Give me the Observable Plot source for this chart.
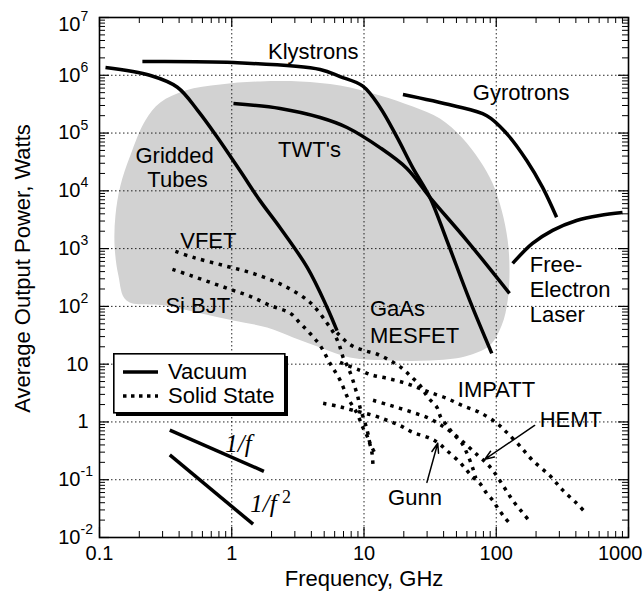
<!DOCTYPE html>
<html><head><meta charset="utf-8">
<script src="https://cdn.jsdelivr.net/npm/d3@7"></script>
<script src="https://cdn.jsdelivr.net/npm/@observablehq/plot@0.6"></script>
<style>
html,body{margin:0;padding:0;background:#fff;overflow:hidden;}
#wrap{position:relative;width:643px;height:595px;font-family:"Liberation Sans",Arial,Helvetica,sans-serif;}
#legend{position:absolute;left:113px;top:353px;}
</style></head><body><div id="wrap"></div>
<script>
// ---- data: [frequency GHz, average power W] ----
const griddedTubes = [[0.111,1.36e6],[0.243,9.9e5],[0.388,6.2e5],[0.55,2.5e5],[0.78,8.4e4],[1.16,2.2e4],[1.64,6.7e3],[2.32,2.3e3],[3.72,473],[5.26,96],[6.25,38]];
const klystrons = [[0.211,1.73e6],[1.03,1.66e6],[4.66,1.26e6],[6.59,9.5e5],[9.8,6.5e5],[13.2,2.8e5],[17.8,8.4e4],[23.4,2.5e4],[31.5,7.7e3],[42.3,1.39e3],[63,127],[92.5,15.4]];
const twts = [[1.03,3.25e5],[2.32,2.67e5],[4.66,1.86e5],[7.44,1.25e5],[13.2,5.6e4],[21.1,2.44e4],[31.5,7.7e3],[59.8,1.39e3],[126,168]];
const gyrotrons = [[19.7,4.66e5],[47,3.0e5],[84.8,2.0e5],[120,9.8e4],[170,3.36e4],[224,1.15e4],[286,3.5e3]];
const freeElectronLaser = [[133,555],[188,1230],[267,2070],[405,3070],[604,3750],[901,4200]];

const vfet = [[0.375,896],[0.512,705],[0.863,512],[1.45,372],[2.45,231],[3.91,117],[5.26,51],[6.04,31.5],[6.59,19.5],[6.95,13.1],[7.57,8.8],[8.11,5.9],[8.55,3.97],[9.0,2.67],[9.33,1.79],[10.2,0.95],[10.7,0.635],[11.1,0.43],[12.3,0.27]];
const siBjt = [[0.356,437],[0.486,344],[0.689,260],[0.975,197],[1.38,149],[1.95,104],[2.77,76],[3.29,51],[3.91,34],[4.66,21],[5.54,10.3],[6.59,5.3],[7.57,2.56],[8.85,1.41],[9.83,0.79],[10.7,0.53],[11.5,0.286],[11.7,0.164]];
const gaasMesfet = [[6.25,35],[7.8,22],[9.8,17.5],[12.5,15],[15.7,11.6],[19.4,8.5],[22.2,6.4],[26.5,4.3],[30.4,2.67],[35.6,1.79],[38.1,1.2],[42.3,0.87],[47,0.635],[55,0.427],[61,0.264],[66.5,0.157],[70,0.106]];
const impatt = [[6.59,10.7],[9.33,7.8],[11.7,6.4],[14.9,5.7],[19.7,4.84],[25.1,3.97],[31.5,3.25],[42.3,2.56],[55.8,1.91],[75,1.46],[101,0.95],[120,0.66],[150,0.39],[188,0.217],[253,0.119],[318,0.066],[405,0.039],[466,0.028]];
const hemt = [[11.7,2.37],[14.9,2.01],[18.7,1.72],[23.4,1.46],[29.9,1.2],[37.5,0.91],[47,0.635],[58.9,0.41],[72.5,0.264],[83.3,0.2],[94,0.146],[106,0.098],[120,0.063],[135,0.042],[156,0.028],[179,0.019]];
const gunn = [[4.91,2.1],[6.37,1.86],[8.26,1.59],[11.7,1.3],[14.9,1.07],[18.7,0.87],[23.4,0.66],[30.4,0.54],[36.1,0.44],[42.3,0.32],[53,0.2],[59.8,0.146],[66.5,0.11],[75,0.087],[84.7,0.058],[94,0.044],[103,0.032],[116,0.022],[131,0.016]];

const slopeOneOverF = [[0.34,0.72],[1.75,0.14]];
const slopeOneOverF2 = [[0.34,0.27],[1.45,0.017]];

// shaded region outline
const shadedRegion = [[0.16,127],[0.139,344],[0.130,1135],[0.132,3750],[0.144,12400],[0.171,40900],[0.222,165000],[0.288,338000],[0.446,546000],[0.818,693000],[1.64,782000],[3.29,782000],[6.59,667000],[13.2,448000],[23.4,288000],[37.5,179000],[55,84000],[75,33600],[94,13400],[110,4580],[122,1390],[126,420],[122,127],[110,47],[89,21],[58,13.6],[31.5,11.6],[15.7,11.6],[7.84,13.1],[4.66,19.5],[2.91,29],[1.85,43],[1.03,57],[0.578,76],[0.315,104]];

// labels
const labelText = ["Klystrons","Gyrotrons","TWT's","Gridded","Tubes","VFET","Si BJT","GaAs","MESFET","Free-","Electron","Laser","IMPATT","HEMT","Gunn"];
const labelF = [1.88,66.5,2.24,0.187,0.230,0.408,0.315,11.1,11.1,179,179,179,51.2,213,15.2];
const labelP = [1.95e6,3.66e5,3.78e4,2.98e4,1.15e4,1007,75.7,67,22.9,387,143,52.9,2.67,0.807,0.036];

const slopeLabelText = ["1/f","1/f"];
const slopeLabelF = [0.893,1.38];
const slopeLabelP = [0.298,0.0273];
const slopeSupText = ["2"];
const slopeSupF = [2.40];
const slopeSupP = [0.039];

const arrowF1 = [195,29.9], arrowP1 = [0.87,0.09];
const arrowF2 = [81.8,36.1], arrowP2 = [0.225,0.427];

const xTicks = [0.1,1,10,100,1000];
const xTickLabels = ["0.1","1","10","100","1000"];
const yTicks = [1e7,1e6,1e5,1e4,1e3,1e2,10,1,0.1,0.01];
const yTickLabels = ["10^7","10^6","10^5","10^4","10^3","10^2","10","1","10^-1","10^-2"];

const xTitle = "Frequency, GHz";
const yTitle = "Average Output Power, Watts";
const legendItems = ["Vacuum","Solid State"];

// ---- build ----
const rows = a => a.map(([f,p]) => ({f,p}));
const W = 643, H = 595, mL = 99, mR = 15, mT = 17, mB = 58;
const pW = W - mL - mR, pH = H - mT - mB;

const xMinor = [], yMinor = [];
for (const t of xTicks.slice(0,-1)) for (let m = 2; m <= 9; m++) xMinor.push(t*m);
for (const t of yTicks.slice(1)) for (let m = 2; m <= 9; m++) yMinor.push(t*m);

const yLab = yTicks.map((v,i) => {
  const [b,e] = yTickLabels[i].split("^");
  return {v, b, e: e || ""};
});
const yTop = yLab.slice(0,1);                       // top label sits just below the frame edge
const yExp = yLab.slice(1).filter(d => d.e), yPlain = yLab.filter(d => !d.e);
const xLab = xTicks.map((v,i) => ({v, t: xTickLabels[i]}));
const labels = labelText.map((t,i) => ({t, f: labelF[i], p: labelP[i]}));
const slopeLabels = slopeLabelText.map((t,i) => ({t, f: slopeLabelF[i], p: slopeLabelP[i]}));
const slopeSup = slopeSupText.map((t,i) => ({t, f: slopeSupF[i], p: slopeSupP[i]}));
const arrows = arrowF1.map((d,i) => ({x1: arrowF1[i], y1: arrowP1[i], x2: arrowF2[i], y2: arrowP2[i]}));

const solid = {x: "f", y: "p", stroke: "black", strokeWidth: 3.5, curve: "catmull-rom", strokeLinecap: "butt"};
const dotted = {x: "f", y: "p", stroke: "black", strokeWidth: 3.5, curve: "catmull-rom", strokeDasharray: "3.5,5.5", strokeLinecap: "butt"};
const font = "Liberation Sans, Arial, Helvetica, sans-serif";

const chart = Plot.plot({
  width: W, height: H,
  marginLeft: mL, marginRight: mR, marginTop: mT, marginBottom: mB,
  x: {type: "log", domain: [0.1, 1000], axis: null},
  y: {type: "log", domain: [0.01, 1e7], axis: null},
  style: {fontFamily: font, fontSize: "20px", color: "black", background: "white"},
  marks: [
    Plot.line(rows(shadedRegion), {x: "f", y: "p", curve: "catmull-rom-closed", fill: "#d2d2d2", stroke: "none"}),
    // grid
    Plot.ruleX(xTicks.slice(1,-1), {stroke: "black", strokeWidth: 1, strokeDasharray: "1.5,2.5", strokeOpacity: 0.85}),
    Plot.ruleY(yTicks.slice(1,-1), {stroke: "black", strokeWidth: 1, strokeDasharray: "1.5,2.5", strokeOpacity: 0.85}),
    // inward ticks, all four sides
    Plot.ruleX(xMinor, {insetTop: pH - 6, stroke: "black", strokeWidth: 1}),
    Plot.ruleX(xMinor, {insetBottom: pH - 6, stroke: "black", strokeWidth: 1}),
    Plot.ruleX(xTicks, {insetTop: pH - 10, stroke: "black", strokeWidth: 1.2}),
    Plot.ruleX(xTicks, {insetBottom: pH - 10, stroke: "black", strokeWidth: 1.2}),
    Plot.ruleY(yMinor, {insetRight: pW - 6, stroke: "black", strokeWidth: 1}),
    Plot.ruleY(yMinor, {insetLeft: pW - 6, stroke: "black", strokeWidth: 1}),
    Plot.ruleY(yTicks, {insetRight: pW - 10, stroke: "black", strokeWidth: 1.2}),
    Plot.ruleY(yTicks, {insetLeft: pW - 10, stroke: "black", strokeWidth: 1.2}),
    Plot.frame({stroke: "black", strokeWidth: 1.6}),
    // vacuum devices
    Plot.line(rows(griddedTubes), solid),
    Plot.line(rows(klystrons), solid),
    Plot.line(rows(twts), solid),
    Plot.line(rows(gyrotrons), solid),
    Plot.line(rows(freeElectronLaser), solid),
    Plot.line(rows(slopeOneOverF), {...solid, curve: "linear"}),
    Plot.line(rows(slopeOneOverF2), {...solid, curve: "linear"}),
    // solid state devices
    Plot.line(rows(vfet), dotted),
    Plot.line(rows(siBjt), dotted),
    Plot.line(rows(gaasMesfet), dotted),
    Plot.line(rows(impatt), dotted),
    Plot.line(rows(hemt), dotted),
    Plot.line(rows(gunn), dotted),
    Plot.arrow(arrows, {x1: "x1", y1: "y1", x2: "x2", y2: "y2", stroke: "black", strokeWidth: 1.5, headLength: 10, headAngle: 40}),
    // annotations
    Plot.text(labels, {x: "f", y: "p", text: "t", textAnchor: "start", lineAnchor: "bottom", fontSize: 22, fill: "black"}),
    Plot.text(slopeLabels, {x: "f", y: "p", text: "t", textAnchor: "start", lineAnchor: "bottom", fontSize: 25, fontFamily: "Liberation Serif, Times New Roman, serif", fontStyle: "italic", fill: "black"}),
    Plot.text(slopeSup, {x: "f", y: "p", text: "t", textAnchor: "start", lineAnchor: "bottom", fontSize: 18, fontFamily: "Liberation Serif, Times New Roman, serif", fill: "black"}),
    // y tick labels
    Plot.text(yTop, {y: "v", text: "b", frameAnchor: "left", textAnchor: "end", dx: -19, dy: 7, fontSize: 20, fill: "black"}),
    Plot.text(yTop, {y: "v", text: "e", frameAnchor: "left", textAnchor: "start", dx: -19, dy: -1, fontSize: 14, fill: "black"}),
    Plot.text(yExp, {y: "v", text: "b", frameAnchor: "left", textAnchor: "end", dx: -19, fontSize: 20, fill: "black"}),
    Plot.text(yExp, {y: "v", text: "e", frameAnchor: "left", textAnchor: "start", dx: -19, dy: -8, fontSize: 14, fill: "black"}),
    Plot.text(yPlain, {y: "v", text: "b", frameAnchor: "left", textAnchor: "end", dx: -11, fontSize: 20, fill: "black"}),
    // x tick labels
    Plot.text(xLab.slice(0,-1), {x: "v", text: "t", frameAnchor: "bottom", lineAnchor: "top", textAnchor: "middle", dy: 8, fontSize: 20, fill: "black"}),
    Plot.text(xLab.slice(-1), {x: "v", text: "t", frameAnchor: "bottom", lineAnchor: "top", textAnchor: "end", dx: 14, dy: 8, fontSize: 20, fill: "black"}),
    // axis titles
    Plot.text([xTitle], {text: d => d, frameAnchor: "bottom", lineAnchor: "bottom", textAnchor: "middle", dy: 48, fontSize: 22, fill: "black"}),
    Plot.text([yTitle], {text: d => d, frameAnchor: "left", textAnchor: "middle", rotate: -90, dx: -77, dy: -9, fontSize: 22, fill: "black"})
  ]
});
const wrap = document.getElementById("wrap");
wrap.appendChild(chart);

// legend (inside the plot area, bordered box with drop shadow)
const lg = d3.create("svg").attr("id", "legend").attr("width", 178).attr("height", 66)
  .style("font-family", font).style("font-size", "22px");
lg.append("rect").attr("x", 3).attr("y", 3).attr("width", 172).attr("height", 60).attr("fill", "black");
lg.append("rect").attr("x", 0.8).attr("y", 0.8).attr("width", 171).attr("height", 59).attr("fill", "white").attr("stroke", "black").attr("stroke-width", 1.6);
legendItems.forEach((t,i) => {
  const y = 19 + i*24;
  lg.append("line").attr("x1", 10).attr("x2", 45).attr("y1", y).attr("y2", y).attr("stroke", "black")
    .attr("stroke-width", 3.5).attr("stroke-dasharray", i ? "3.5,4.5" : null);
  lg.append("text").attr("x", 55).attr("y", y + 7).attr("fill", "black").text(t);
});
wrap.appendChild(lg.node());
</script></body></html>
